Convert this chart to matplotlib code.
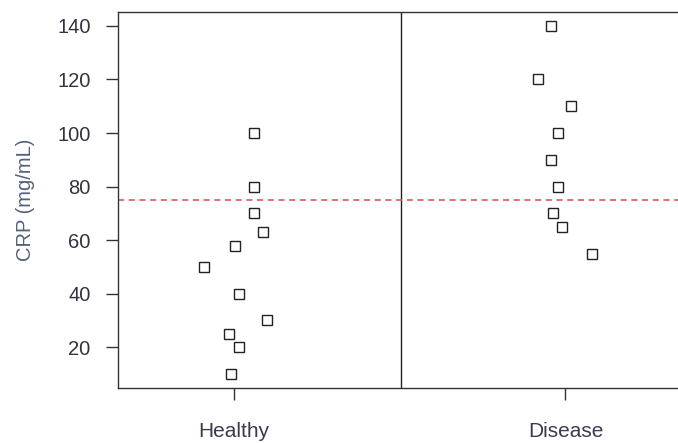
import matplotlib
matplotlib.use("Agg")
import matplotlib.pyplot as plt

plt.rcParams['font.family'] = ['Liberation Sans', 'DejaVu Sans']

groups = ["Healthy", "Disease"]
healthy_crp = [100, 80, 70, 63, 58, 50, 40, 30, 25, 20, 10]
healthy_pos = [1.06, 1.06, 1.06, 1.087, 1.003, 0.909, 1.015, 1.10, 0.985, 1.015, 0.991]
disease_crp = [140, 120, 110, 100, 90, 80, 70, 65, 55]
disease_pos = [1.956, 1.916, 2.016, 1.977, 1.955, 1.977, 1.962, 1.99, 2.08]
threshold = 75
y_ticks = [20, 40, 60, 80, 100, 120, 140]

fig = plt.figure(figsize=(6.78, 4.43), dpi=100)
ax = fig.add_axes([0.174, 0.1242, 0.836, 0.8487])

marker_style = dict(marker='s', linestyle='none', markersize=7.6,
                    markerfacecolor='white', markeredgecolor='#222222',
                    markeredgewidth=1.0)
ax.plot(healthy_pos, healthy_crp, **marker_style)
ax.plot(disease_pos, disease_crp, **marker_style)

ax.axvline(1.505, color='#222222', lw=1.0)
ax.axhline(threshold, color='#d05050', lw=1.1, linestyle=(0, (4, 3)))

ax.set_xlim(0.65, 2.36)
ax.set_ylim(4.8, 145.2)
ax.set_xticks([1, 2])
ax.set_xticklabels(groups)
ax.set_yticks(y_ticks)

for s in ax.spines.values():
    s.set_color('#333333')
    s.set_linewidth(1.0)
ax.spines['right'].set_visible(False)

ax.tick_params(axis='y', length=8.6, width=1.0, color='#333333', pad=11,
               labelsize=14.5, labelcolor='#333340')
ax.tick_params(axis='x', length=8.6, width=1.0, color='#333333', pad=16,
               labelsize=15, labelcolor='#3a3a50')

ax.set_ylabel("CRP (mg/mL)", fontsize=14.5, color='#55607a', labelpad=16)

fig.savefig("out.png", dpi=100)
